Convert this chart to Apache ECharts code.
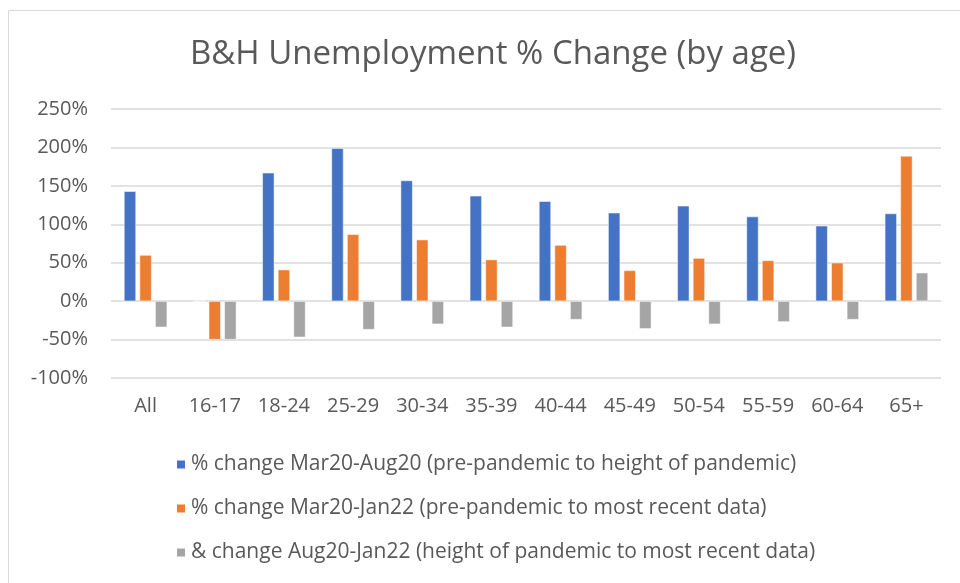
<!DOCTYPE html>
<html>
<head>
<meta charset="utf-8">
<script src="https://cdn.jsdelivr.net/npm/echarts@6/dist/echarts.min.js"></script>
<style>
  html, body { margin: 0; padding: 0; background: #fff; }
  #chart { width: 960px; height: 583px; }
</style>
</head>
<body>
<div id="chart"></div>
<script>
const ageGroups = ['All', '16-17', '18-24', '25-29', '30-34', '35-39', '40-44', '45-49', '50-54', '55-59', '60-64', '65+']
const peakChange = [143, 0, 167, 199, 157, 137, 130, 115, 124, 110, 98, 114]
const recentChange = [60, -50, 41, 87, 80, 54, 73, 40, 56, 53, 50, 189]
const sincePeakChange = [-34, -50, -47, -37, -30, -34, -24, -36, -30, -27, -24, 37]
const seriesNames = [
  '% change Mar20-Aug20 (pre-pandemic to height of pandemic)',
  '% change Mar20-Jan22 (pre-pandemic to most recent data)',
  '& change Aug20-Jan22 (height of pandemic to most recent data)'
]
const colors = ['#4472c4', '#ed7d31', '#a5a5a5']

const font = 'Open Sans, sans-serif'
const chart = echarts.init(document.getElementById('chart'))

const mkBar = (name, data, color) => ({
  name, type: 'bar', data,
  barWidth: 12, barGap: '30%',
  itemStyle: { color, borderColor: '#fff', borderWidth: 0.5 },
})

chart.setOption({
  animation: false,
  // chart frame, left and top edges only are visible in the crop
  graphic: [
    { type: 'line', shape: { x1: 8.5, y1: 10.5, x2: 8.5, y2: 583 }, style: { stroke: '#d9d9d9', lineWidth: 1 } },
    { type: 'line', shape: { x1: 8.5, y1: 10.5, x2: 960, y2: 10.5 }, style: { stroke: '#d9d9d9', lineWidth: 1 } },
  ],
  title: {
    text: 'B&H Unemployment % Change (by age)',
    left: 488, top: 33, textAlign: 'center',
    textStyle: { fontFamily: font, fontSize: 33, fontWeight: 'normal', color: '#595959' },
  },
  legend: {
    orient: 'vertical', left: 170, top: 449, itemGap: 23,
    itemWidth: 10, itemHeight: 10, icon: 'rect',
    textStyle: { fontFamily: font, fontSize: 21, color: '#595959' },
  },
  grid: { left: 111, right: 19, top: 109, bottom: 205 },
  xAxis: {
    type: 'category', data: ageGroups,
    axisLine: { show: false }, axisTick: { show: false },
    axisLabel: { fontFamily: font, fontSize: 20, color: '#595959', margin: 18 },
  },
  yAxis: {
    type: 'value', min: -100, max: 250, interval: 50,
    axisLine: { show: false }, axisTick: { show: false },
    axisLabel: { fontFamily: font, fontSize: 20, color: '#595959', margin: 23, formatter: '{value}%' },
    splitLine: { lineStyle: { color: '#d9d9d9', width: 1.5 } },
  },
  series: [
    mkBar(seriesNames[0], peakChange, colors[0]),
    mkBar(seriesNames[1], recentChange, colors[1]),
    mkBar(seriesNames[2], sincePeakChange, colors[2]),
  ],
})
</script>
</body>
</html>
